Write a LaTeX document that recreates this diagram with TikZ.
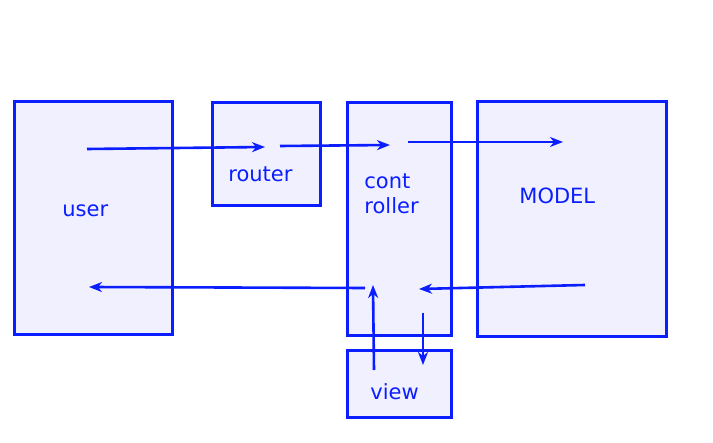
\documentclass[tikz,border=0pt]{standalone}
\usepackage{fontspec}
\setmainfont{DejaVu Sans}
\usetikzlibrary{arrows.meta}
\definecolor{mvcblue}{RGB}{10,30,255}
\definecolor{mvcfill}{RGB}{240,240,255}
\tikzset{every picture/.style={line width=0.75pt}}
\tikzset{
  mvcbox/.style={draw=mvcblue, fill=mvcfill, line width=3pt},
  mvclabel/.style={text=mvcblue, font=\fontsize{21}{25}\selectfont, anchor=base west, inner sep=0pt},
  mvcarrow/.style={draw=mvcblue, line width=2.6pt, -{Stealth[length=13pt,width=10pt,inset=4pt]}}
}
\begin{document}
\begin{tikzpicture}[x=1pt,y=-1pt]
    \useasboundingbox (0,0) rectangle (713,443);
    % boxes
    \draw[mvcbox] (14,102) rectangle (172,335);
    \draw[mvcbox] (212,103) rectangle (320,206);
    \draw[mvcbox] (347,103) rectangle (451,336);
    \draw[mvcbox] (477,102) rectangle (666,337);
    \draw[mvcbox] (347,351) rectangle (451,418);
    % labels
    \node[mvclabel] (user) at (62,217) {user};
    \node[mvclabel] (router) at (228,182) {router};
    \node[mvclabel] (cont) at (364,189) {cont};
    \node[mvclabel] (roller) at (364,214) {roller};
    \node[mvclabel] (model) at (519,204) {MODEL};
    \node[mvclabel] (view) at (370,400) {view};
    % arrow ends
    \coordinate (u1) at (87,149);   \coordinate (r1) at (265,147);
    \coordinate (r2) at (280,146);  \coordinate (c1) at (390,145);
    \coordinate (c2) at (408,142);  \coordinate (m1) at (563,142);
    \coordinate (m2) at (585,285);  \coordinate (c3) at (419,289);
    \coordinate (c4) at (365,288);  \coordinate (u2) at (89,287);
    \coordinate (v1) at (374,370);  \coordinate (c5) at (373,285);
    \coordinate (c6) at (423,313);  \coordinate (v2) at (423,365);
    % connectors
    \draw[mvcarrow] (u1) -- (r1);
    \draw[mvcarrow] (r2) -- (c1);
    \draw[mvcarrow] (c2) -- (m1);
    \draw[mvcarrow] (m2) -- (c3);
    \draw[mvcarrow] (c4) -- (u2);
    \draw[mvcarrow] (v1) -- (c5);
    \draw[mvcarrow] (c6) -- (v2);
\end{tikzpicture}
\end{document}
